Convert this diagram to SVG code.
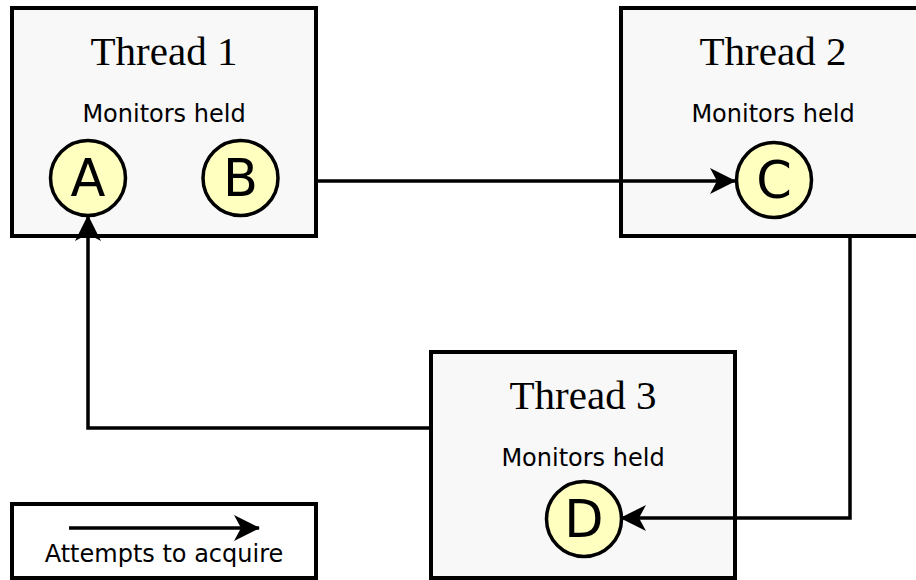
<svg xmlns="http://www.w3.org/2000/svg" width="916" height="580" viewBox="0 0 916 580">
  <style>
    .box { fill: #f8f8f8; stroke: #000; stroke-width: 4; }
    .legend { fill: #fff; stroke: #000; stroke-width: 4; }
    .title { font-family: Georgia, "Liberation Serif", "DejaVu Serif", serif; font-size: 41px; text-anchor: middle; fill: #000; }
    .sub { font-family: "DejaVu Sans", sans-serif; font-size: 24px; text-anchor: middle; fill: #000; }
    .mon { fill: #ffffc0; stroke: #000; stroke-width: 3.5; }
    .monlbl { font-family: "DejaVu Sans", sans-serif; font-size: 51px; text-anchor: middle; fill: #000; }
    .edge { fill: none; stroke: #000; stroke-width: 3.5; marker-end: url(#arrow); }
  </style>
  <defs>
    <marker id="arrow" viewBox="0 0 26 26" refX="25" refY="13" markerWidth="26" markerHeight="26" markerUnits="userSpaceOnUse" orient="auto">
      <path d="M0,0 L26,13 L0,26 L7,13 Z" fill="#000"/>
    </marker>
  </defs>

  <!-- thread nodes -->
  <g id="thread1">
    <rect class="box" x="12" y="8" width="304" height="228"/>
    <text class="title" x="164" y="65">Thread 1</text>
    <text class="sub" x="164" y="122">Monitors held</text>
    <g id="monA">
      <circle class="mon" cx="88" cy="178" r="37.5"/>
      <text class="monlbl" x="88" y="196">A</text>
    </g>
    <g id="monB">
      <circle class="mon" cx="240.5" cy="178" r="37.5"/>
      <text class="monlbl" x="240.5" y="196">B</text>
    </g>
  </g>

  <g id="thread2">
    <rect class="box" x="621" y="8" width="304" height="228"/>
    <text class="title" x="773" y="65">Thread 2</text>
    <text class="sub" x="773" y="122">Monitors held</text>
    <g id="monC">
      <circle class="mon" cx="774" cy="180" r="37.5"/>
      <text class="monlbl" x="774" y="198">C</text>
    </g>
  </g>

  <g id="thread3">
    <rect class="box" x="431" y="352" width="304" height="226"/>
    <text class="title" x="583" y="409">Thread 3</text>
    <text class="sub" x="583" y="466">Monitors held</text>
    <g id="monD">
      <circle class="mon" cx="584" cy="519" r="37.5"/>
      <text class="monlbl" x="584" y="537">D</text>
    </g>
  </g>

  <!-- legend -->
  <g id="legend">
    <rect class="legend" x="12" y="504" width="304" height="74"/>
    <path class="edge" d="M69,528 H259"/>
    <text class="sub" x="164" y="562">Attempts to acquire</text>
  </g>

  <!-- wait-for edges -->
  <g id="connectors">
    <path class="edge" d="M316,181 H735"/>
    <path class="edge" d="M850,236 V518 H621"/>
    <path class="edge" d="M431,428 H88 V216"/>
  </g>
</svg>
